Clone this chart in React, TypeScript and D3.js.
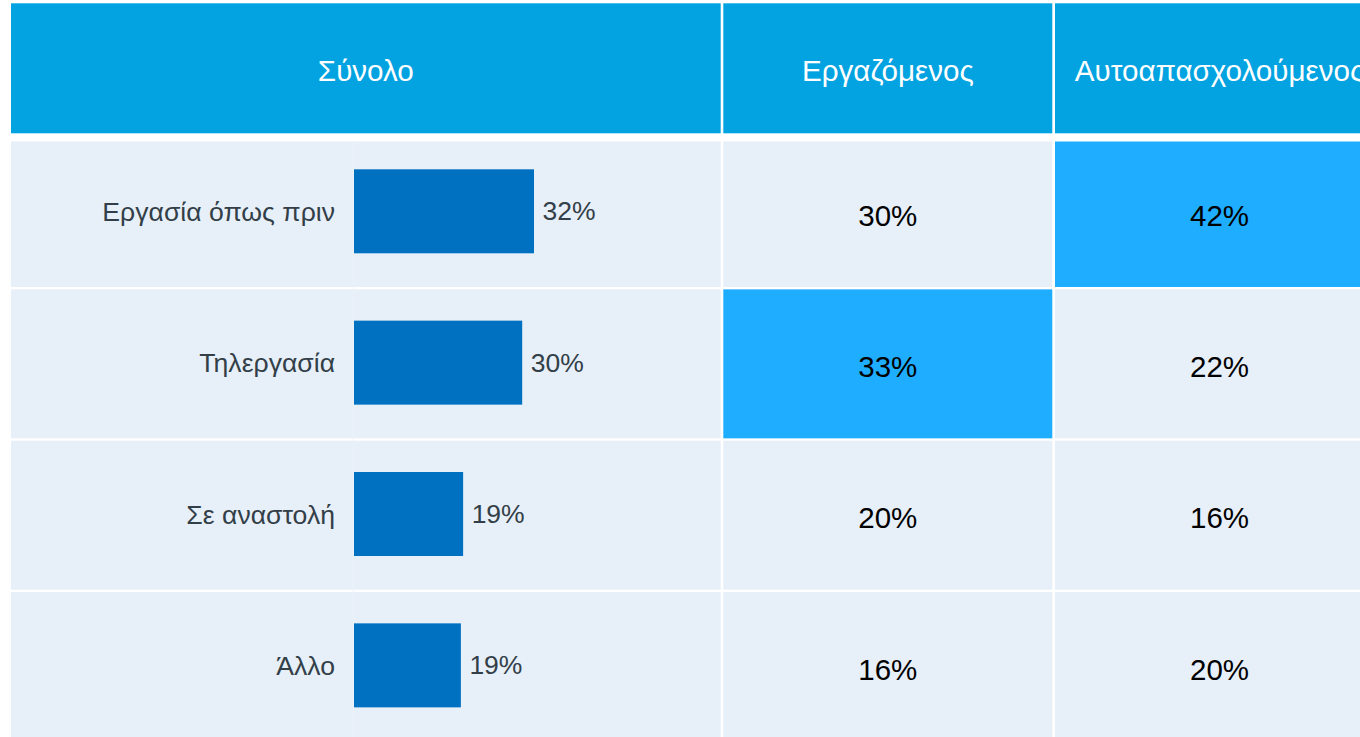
import React from "react";
import * as d3 from "d3";

const columnHeaders = ["Σύνολο", "Εργαζόμενος", "Αυτοαπασχολούμενος"];
const categories = ["Εργασία όπως πριν", "Τηλεργασία", "Σε αναστολή", "Άλλο"];
const totalValues = [32.0, 29.9, 19.4, 19.0];
const employedValues = [30, 33, 20, 16];
const selfEmployedValues = [42, 22, 16, 20];

const W = 1360;
const H = 737;
const FONT = "'Liberation Sans', Arial, Helvetica, sans-serif";

export default function App() {
  // layout
  const colEdges: [number, number][] = [
    [11, 720.7],
    [723.3, 1052.3],
    [1055, 1384],
  ];
  const headerTop = 3.3;
  const headerBottom = 133.3;
  const rowsClipTop = 141.5;

  const rowBand = d3
    .scaleBand<string>()
    .domain(categories)
    .range([138, 138 + 3 * 151.35 + 149])
    .paddingInner(2.35 / 151.35)
    .paddingOuter(0);

  const barH = 84;
  const x = d3.scaleLinear().domain([0, 100]).range([354, 354 + 562.5]);

  const valueCols = [employedValues, selfEmployedValues];
  const maxes = valueCols.map((v) => d3.max(v) as number);

  return (
    <svg
      width={W}
      height={H}
      style={{ position: "absolute", left: 0, top: 0, background: "#fff" }}
      fontFamily={FONT}
    >
      <rect x={0} y={0} width={W} height={H} fill="#ffffff" />
      {/* header */}
      {columnHeaders.map((h, i) => {
        const [x0, x1] = colEdges[i];
        return (
          <g key={h}>
            <rect
              x={x0}
              y={headerTop}
              width={x1 - x0}
              height={headerBottom - headerTop}
              fill="#03A3E1"
            />
            <text
              x={(x0 + x1) / 2}
              y={81.3}
              textAnchor="middle"
              fontSize={29.6}
              fill="#ffffff"
            >
              {h}
            </text>
          </g>
        );
      })}
      {/* rows */}
      {categories.map((c, r) => {
        const y0 = rowBand(c) as number;
        const top = Math.max(y0, rowsClipTop);
        const bottom = y0 + rowBand.bandwidth();
        return (
          <g key={c}>
            {colEdges.map(([x0, x1], ci) => {
              let fill = "#E7EFF9";
              if (ci > 0 && valueCols[ci - 1][r] === maxes[ci - 1]) fill = "#1FADFF";
              return (
                <rect
                  key={ci}
                  x={x0}
                  y={top}
                  width={x1 - x0}
                  height={bottom - top}
                  fill={fill}
                />
              );
            })}
          </g>
        );
      })}
      {/* faint divider in first column */}
      <line x1={353.3} x2={353.3} y1={rowsClipTop} y2={H} stroke="#EEF2F7" strokeWidth={1} />
      {categories.map((c, r) => {
        const y0 = rowBand(c) as number;
        const cy = y0 + rowBand.bandwidth() / 2;
        const barCy = cy - 1.2;
        const v = totalValues[r];
        return (
          <g key={"b" + c}>
            <text
              x={335}
              y={barCy + 9.5}
              textAnchor="end"
              fontSize={26.6}
              fill="#333F48"
            >
              {c}
            </text>
            <rect
              x={x(0)}
              y={barCy - barH / 2}
              width={x(v) - x(0)}
              height={barH}
              fill="#0070C0"
            />
            <text
              x={x(v) + 8.5}
              y={barCy + 9}
              fontSize={26.5}
              fill="#333F48"
            >
              {Math.round(v) + "%"}
            </text>
            {valueCols.map((vals, ci) => {
              const [x0, x1] = colEdges[ci + 1];
              return (
                <text
                  key={ci}
                  x={(x0 + x1) / 2}
                  y={cy + 13}
                  textAnchor="middle"
                  fontSize={29.5}
                  fill="#000000"
                >
                  {vals[r] + "%"}
                </text>
              );
            })}
          </g>
        );
      })}
    </svg>
  );
}
